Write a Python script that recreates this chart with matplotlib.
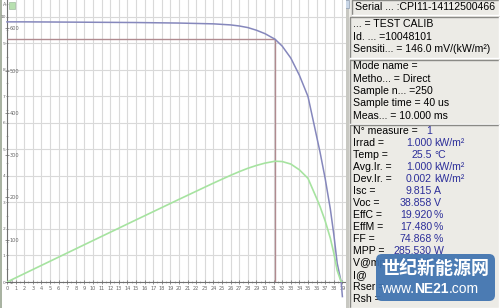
import numpy as np
import matplotlib.pyplot as plt
from matplotlib.patches import Rectangle, FancyBboxPatch

# I-V curve
volts = [0, 2, 5, 10, 15, 20, 24, 26, 27, 28, 29, 30, 31, 31.148, 32, 33, 34,
         35, 36, 36.4, 37, 37.6, 38, 38.4, 38.858, 39.0]
amps = [9.815, 9.815, 9.81, 9.80, 9.79, 9.77, 9.74, 9.70, 9.66, 9.60, 9.50, 9.37,
        9.19, 9.167, 8.90, 8.45, 7.80, 7.00, 5.50, 4.90, 3.90, 2.75, 1.80, 0.70,
        0.0, -0.55]
v_mpp = 31.148
i_mpp = 9.167

power = np.clip(np.array(volts) * np.array(amps), 0, None)

x_ticks = list(range(0, 40))
i_ticks = list(range(0, 11))
p_ticks = [0, 100, 200, 300, 400, 500, 600]

serial_line = "Serial ... :CPI11-14112500466"
info_box2 = ["... = TEST CALIB", "Id. ... =10048101", "Sensiti... = 146.0 mV/(kW/m\u00b2)"]
info_box3 = ["Mode name =", "Metho... = Direct", "Sample n... =250",
             "Sample time = 40 us", "Meas... = 10.000 ms"]
meas_labels = ["N\u00b0 measure =", "Irrad =", "Temp =", "Avg.Ir. =", "Dev.Ir. =",
               "Isc =", "Voc =", "EffC =", "EffM =", "FF =", "MPP =", "V@mpp =",
               "I@", "Rser =", "Rsh ="]
meas_values = ["1", "1.000", "25.5", "1.000", "0.002", "9.815", "38.858", "19.920",
               "17.480", "74.868", "285.530", "31.148", "", "", ""]
meas_units = ["", "kW/m\u00b2", "\u00b0C", "kW/m\u00b2", "kW/m\u00b2", "A", "V", "%",
              "%", "%", "W", "V", "", "", ""]

W, H = 500, 308
fig = plt.figure(figsize=(5, 3.08), dpi=100)
fig.patch.set_facecolor("white")

# left gray strip
strip = fig.add_axes([0, 0, 2 / W, 1])
strip.set_facecolor("#a9b3a2")
strip.set_xticks([])
strip.set_yticks([])
for s in strip.spines.values():
    s.set_visible(False)

x0, x1 = 7, 346
y_axis = 282
ax = fig.add_axes([x0 / W, (H - y_axis) / H, (x1 - x0) / W, y_axis / H])
ax.set_xlim(0, 39.42)
ax.set_ylim(0, 10.64)
ax.set_xticks(x_ticks)
ax.set_yticks(i_ticks)
ax.set_xticks(np.arange(0, 39.5, 0.5), minor=True)
ax.set_yticks(np.arange(0, 10.6, 0.5), minor=True)
ax.grid(True, which="major", color="#d9d9d9", lw=0.8)
ax.set_axisbelow(True)
for s in ["top", "right"]:
    ax.spines[s].set_visible(False)
ax.spines["left"].set_color("#707070")
ax.spines["bottom"].set_color("#707070")
ax.spines["left"].set_linewidth(0.8)
ax.spines["bottom"].set_linewidth(0.8)
ax.tick_params(axis="x", which="major", labelsize=3.6, length=2.5, width=0.5,
               pad=1.5, colors="#666666", direction="inout")
ax.tick_params(axis="x", which="minor", length=1.2, width=0.4, color="#888888",
               direction="inout")
ax.tick_params(axis="y", which="major", labelsize=3.2, length=1.5, width=0.5,
               pad=0.2, colors="#666666", direction="inout")
ax.tick_params(axis="y", which="minor", length=1.2, width=0.4, color="#888888",
               direction="inout")

ax2 = ax.twinx()
ax2.set_ylim(0, 666.7)
ax2.set_yticks(p_ticks)
ax2.yaxis.set_ticks_position("left")
ax2.tick_params(axis="y", labelsize=3.6, length=3, width=0.5, direction="inout",
                pad=-3.5, colors="#666666")
for lab in ax2.get_yticklabels():
    lab.set_horizontalalignment("left")
for s in ax2.spines.values():
    s.set_visible(False)

ax.hlines(i_mpp, 0, v_mpp, color="#b08a8f", lw=1.0, zorder=3)
ax.vlines(v_mpp, 0, i_mpp, color="#b08a8f", lw=1.0, zorder=3)
ax2.plot(volts, power, color="#a6e3a0", lw=1.2, zorder=4)
ax.plot(volts, amps, color="#8587bc", lw=1.1, zorder=5, clip_on=False)

# top-left marker
fig.text(3 / W, 1 - 5 / H, "A", fontsize=3.5, color="#666666", va="center")
fig.patches.append(Rectangle((9 / W, 1 - 9 / H), 6 / W, 7 / H,
                             transform=fig.transFigure, facecolor="#b8e0b0",
                             edgecolor="#90b090", lw=0.4))

# right info panel, drawn in pixel coords
pax = fig.add_axes([x1 / W, 0, (W - x1) / W, 1])
pax.set_xlim(x1, W)
pax.set_ylim(H, 0)
pax.axis("off")
pax.add_patch(Rectangle((x1, 0), W - x1, H, facecolor="#ecebe6", edgecolor="none"))
pax.add_patch(Rectangle((x1, 0), 2.5, H, facecolor="#c8c8c2", edgecolor="none"))


def sunken(x, y, w, h):
    pax.plot([x, x, x + w], [y + h, y, y], color="#8a8a86", lw=1.0)
    pax.plot([x, x + w, x + w], [y + h, y + h, y], color="#ffffff", lw=1.0)


sunken(352, 0, 147, 15)
sunken(350, 17, 149, 41)
sunken(350, 60, 149, 64)
sunken(350, 125, 149, 183)

fnt = dict(family="Liberation Sans", fontsize=7.6, va="center")
pax.text(355, 7.5, serial_line, color="black", **fnt)
pax.add_patch(Rectangle((343, 0), 6, 8, facecolor="#c9d6e6", edgecolor="#8090a8", lw=0.4))

for k, t in enumerate(info_box2):
    pax.text(353, 24 + k * 12.5, t, color="black", **fnt)
for k, t in enumerate(info_box3):
    pax.text(353, 66 + k * 12.5, t, color="black", **fnt)

blue = "#2d2f9a"
for k, (lab, val, unit) in enumerate(zip(meas_labels, meas_values, meas_units)):
    yy = 131 + k * 12
    pax.text(353, yy, lab, color="black", **fnt)
    if val:
        pax.text(432, yy, val, color=blue, ha="right", **fnt)
    if unit:
        pax.text(434, yy, unit, color=blue, ha="left", **fnt)

# watermark
pax.add_patch(FancyBboxPatch((376, 254), 119, 47, boxstyle="round,pad=0,rounding_size=6",
                             facecolor="#3f73b0", edgecolor="none", alpha=0.93, zorder=6))
pax.text(435.5, 268, "\u4e16\u7eaa\u65b0\u80fd\u6e90\u7f51", color="white", fontsize=13,
         family=["Noto Sans CJK SC", "DejaVu Sans"], weight="bold", ha="center",
         va="center", zorder=7)
wfnt = dict(family="Liberation Sans", fontsize=10, color="white", zorder=7, va="bottom")
t1 = pax.text(381, 296, "www.", ha="left", **wfnt)
t2 = pax.annotate("NE21", xy=(1, 0), xycoords=t1, weight="bold", **wfnt)
pax.annotate(".com", xy=(1, 0), xycoords=t2, **wfnt)

fig.savefig("out.png", dpi=100)
